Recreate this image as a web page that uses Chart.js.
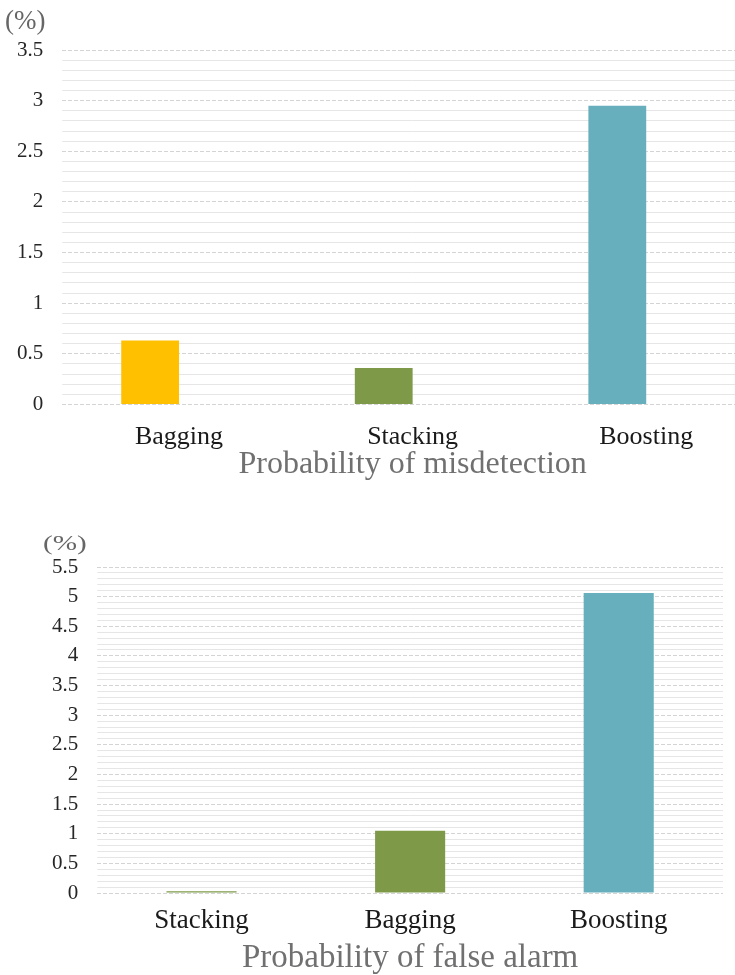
<!DOCTYPE html>
<html>
<head>
<meta charset="utf-8">
<script src="https://cdn.jsdelivr.net/npm/chart.js@4/dist/chart.umd.min.js"></script>
<style>
  html, body { margin: 0; padding: 0; background: #fff; overflow: hidden; width: 735px; height: 975px; }
  canvas { position: absolute; }
  .unit { position: absolute; font-family: "Liberation Serif", "Times New Roman", serif; color: #666; font-size: 27px; line-height: 1; transform-origin: 0 0; }
</style>
</head>
<body>
<canvas id="misdetection" width="770" height="490" style="top:0; left:-2px"></canvas>
<span class="unit" style="left:5px; top:7px">(%)</span>
<canvas id="falseAlarm" width="735" height="488" style="top:490px; left:0"></canvas>
<span class="unit" style="left:43px; top:532px; transform: scale(1.08, 0.8)">(%)</span>

<script>
// Probability of misdetection (%)
const misdetectionCategories = ['Bagging', 'Stacking', 'Boosting'];
const misdetectionValues = [0.63, 0.36, 2.95];
const misdetectionSpareSeries = [null, null, null]; // second, empty series slot
const misdetectionTicks = [0, 0.5, 1, 1.5, 2, 2.5, 3, 3.5];

// Probability of false alarm (%)
const falseAlarmCategories = ['Stacking', 'Bagging', 'Boosting'];
const falseAlarmValues = [0.03, 1.05, 5.06];
const falseAlarmTicks = [0, 0.5, 1, 1.5, 2, 2.5, 3, 3.5, 4, 4.5, 5, 5.5];

const YELLOW = '#FFC000', GREEN = '#7E9A48', TEAL = '#67AFBC';
const SERIF = '"Liberation Serif", "Times New Roman", serif';

function minorTicks(max) {
  const out = [];
  for (let i = 0; i <= Math.round(max * 10); i++) out.push({ value: i / 10 });
  return out;
}
const isMajor = v => Math.abs(v * 2 - Math.round(v * 2)) < 1e-6;

function buildChart(id, labels, datasets, ticks, opts) {
  const max = ticks[ticks.length - 1];
  return new Chart(document.getElementById(id), {
    type: 'bar',
    data: { labels, datasets },
    options: {
      responsive: false,
      animation: false,
      events: [],
      layout: { padding: opts.padding },
      plugins: { legend: { display: false }, tooltip: { enabled: false } },
      datasets: { bar: { categoryPercentage: opts.catPct, barPercentage: 1, borderWidth: 0 } },
      scales: {
        x: {
          grid: { display: false, drawTicks: false },
          border: { display: false },
          ticks: { color: '#1a1a1a', font: { family: SERIF, size: opts.labelSize }, padding: opts.xPad },
          title: {
            display: true, text: opts.title, color: '#707070',
            font: { family: SERIF, size: opts.titleSize }, padding: { top: opts.titlePad, bottom: 0 }
          }
        },
        y: {
          min: 0, max,
          afterBuildTicks: s => { s.ticks = ticks.map(v => ({ value: v })); },
          grid: { color: '#d4d4d4', lineWidth: 1, drawTicks: false },
          border: { display: false, dash: [4, 2] },
          ticks: {
            autoSkip: false, color: '#262626', padding: 19,
            font: { family: SERIF, size: 21 },
            callback: v => String(v)
          }
        },
        yMinor: {
          position: 'right',
          min: 0, max,
          afterBuildTicks: s => { s.ticks = minorTicks(max); },
          grid: {
            drawTicks: false, lineWidth: 1,
            color: c => isMajor(c.tick.value) ? 'rgba(0,0,0,0)' : '#e6e6e6'
          },
          border: { display: false },
          ticks: { display: false }
        }
      }
    }
  });
}

buildChart('misdetection', misdetectionCategories, [
  { data: misdetectionValues, backgroundColor: [YELLOW, GREEN, TEAL] },
  { data: misdetectionSpareSeries, backgroundColor: '#A5A5A5' }
], misdetectionTicks, {
  padding: { top: 50, left: 0, right: 5, bottom: 6 },
  catPct: 0.495, xPad: 17, titlePad: -24, labelSize: 26, titleSize: 32,
  title: 'Probability of misdetection'
});

buildChart('falseAlarm', falseAlarmCategories, [
  { data: falseAlarmValues, backgroundColor: [GREEN, GREEN, TEAL] }
], falseAlarmTicks, {
  padding: { top: 77, left: 33, right: 12, bottom: 0 },
  catPct: 0.336, xPad: 12, titlePad: -11, labelSize: 27, titleSize: 33,
  title: 'Probability of false alarm'
});
</script>
</body>
</html>
